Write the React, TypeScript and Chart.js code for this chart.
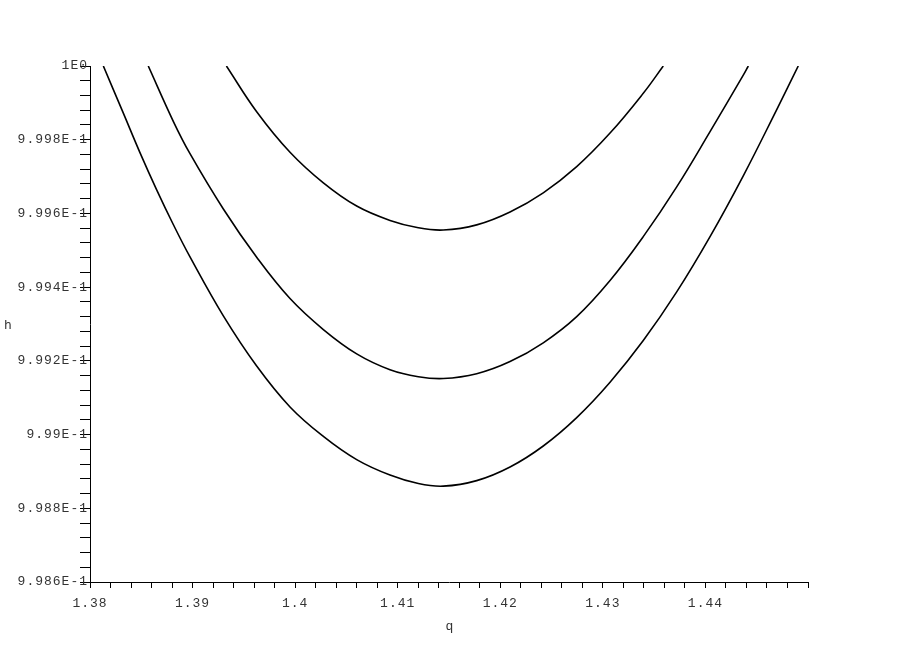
import React, { useEffect, useRef } from "react";
import { Chart, registerables } from "chart.js";

Chart.register(...registerables);

// Curve A (top)
const qA = [1.3933, 1.39625, 1.3995, 1.40275, 1.406, 1.40925, 1.41201, 1.41444, 1.4177, 1.42095, 1.42419, 1.42745, 1.4307, 1.43394, 1.43589];
const hA = [1.0, 0.999876, 0.999766, 0.999683, 0.99962, 0.999581, 0.999561, 0.999555, 0.999569, 0.999604, 0.999656, 0.999727, 0.999818, 0.999926, 1.0];

// Curve B (middle)
const qB = [1.38568, 1.38812, 1.38975, 1.393, 1.39625, 1.3995, 1.40275, 1.406, 1.40925, 1.41201, 1.41444, 1.4177, 1.42095, 1.42419, 1.42745, 1.4307, 1.43394, 1.4372, 1.44045, 1.44369, 1.44418];
const hB = [1.0, 0.99985, 0.999762, 0.999612, 0.999481, 0.999369, 0.999285, 0.999219, 0.999176, 0.999157, 0.999152, 0.999165, 0.999198, 0.999249, 0.99932, 0.999418, 0.999537, 0.999672, 0.999822, 0.999975, 1.0];

// Curve C (bottom)
const qC = [1.3813, 1.38325, 1.38487, 1.3865, 1.38812, 1.38975, 1.393, 1.39625, 1.3995, 1.40275, 1.406, 1.40925, 1.41201, 1.41444, 1.4177, 1.42095, 1.42419, 1.42745, 1.4307, 1.43394, 1.4372, 1.44045, 1.44369, 1.44694, 1.44905];
const hC = [1.0, 0.999872, 0.999765, 0.999664, 0.99957, 0.999482, 0.999322, 0.999186, 0.999075, 0.998995, 0.998932, 0.99889, 0.998867, 0.99886, 0.998875, 0.998912, 0.998969, 0.999046, 0.999142, 0.999255, 0.999387, 0.999537, 0.999702, 0.999881, 1.0];

// Axis ticks
const xMin = 1.38;
const xMax = 1.45;
const xMajorValues = [1.38, 1.39, 1.4, 1.41, 1.42, 1.43, 1.44];
const xTickLabels = ["1.38", "1.39", "1.4", "1.41", "1.42", "1.43", "1.44"];
const xMinorStep = 0.002;

const yMin = 0.9986;
const yMax = 1.0;
const yMajorValues = [0.9986, 0.9988, 0.999, 0.9992, 0.9994, 0.9996, 0.9998, 1.0];
const yTickLabels = ["9.986E-1", "9.988E-1", "9.99E-1", "9.992E-1", "9.994E-1", "9.996E-1", "9.998E-1", "1E0"];
const yMinorStep = 0.00004;

const xTitle = "q";
const yTitle = "h";

const FONT = '"Liberation Mono", "DejaVu Sans Mono", monospace';

function buildTicks(min: number, max: number, step: number) {
  const n = Math.round((max - min) / step);
  const out: { value: number }[] = [];
  for (let i = 0; i <= n; i++) out.push({ value: min + i * step });
  return out;
}

function labelFor(v: number, majors: number[], labels: string[], eps: number) {
  for (let i = 0; i < majors.length; i++) {
    if (Math.abs(majors[i] - v) < eps) return labels[i];
  }
  return "";
}

const toPts = (xs: number[], ys: number[]) => xs.map((x, i) => ({ x, y: ys[i] }));

export default function App() {
  const ref = useRef<HTMLCanvasElement | null>(null);
  useEffect(() => {
    if (!ref.current) return;
    const spacing = {
      id: "spacing",
      beforeLayout(chart: any) {
        try { chart.ctx.letterSpacing = "1px"; } catch (e) {}
      },
      beforeDraw(chart: any) {
        try { chart.ctx.letterSpacing = "1px"; } catch (e) {}
      },
    };
    const titles = {
      id: "axisTitles",
      afterDraw(chart: any) {
        const ctx = chart.ctx;
        const a = chart.chartArea;
        ctx.save();
        ctx.fillStyle = "#333";
        ctx.font = "13px " + FONT;
        ctx.textBaseline = "middle";
        ctx.textAlign = "left";
        ctx.fillText(yTitle, 4, (a.top + a.bottom) / 2 + 2);
        ctx.textAlign = "center";
        ctx.fillText(xTitle, (a.left + a.right) / 2 + 1, 627);
        ctx.restore();
      },
    };
    const ds = (xs: number[], ys: number[]) => ({
      data: toPts(xs, ys),
      borderColor: "#000",
      borderWidth: 1.6,
      pointRadius: 0,
      tension: 0.4,
      fill: false,
    });
    const chart = new Chart(ref.current, {
      type: "line",
      data: { datasets: [ds(qA, hA), ds(qB, hB), ds(qC, hC)] },
      options: {
        animation: false,
        responsive: false,
        events: [],
        layout: { padding: { top: 66, right: 91, left: 0, bottom: 0 } },
        plugins: { legend: { display: false }, tooltip: { enabled: false } },
        scales: {
          x: {
            type: "linear",
            min: xMin,
            max: xMax,
            afterBuildTicks: (s: any) => {
              s.ticks = buildTicks(xMin, xMax, xMinorStep);
            },
            afterFit: (s: any) => {
              s.height = 65;
            },
            ticks: {
              autoSkip: false,
              maxRotation: 0,
              padding: 8,
              color: "#333",
              font: { family: FONT, size: 13 },
              callback: (v: any) => labelFor(Number(v), xMajorValues, xTickLabels, 1e-6),
            },
            grid: { drawOnChartArea: false, drawTicks: true, tickLength: 6, color: "#000" },
            border: { display: true, color: "#000", width: 1 },
          },
          y: {
            type: "linear",
            min: yMin,
            max: yMax,
            afterBuildTicks: (s: any) => {
              s.ticks = buildTicks(yMin, yMax, yMinorStep);
            },
            afterFit: (s: any) => {
              s.width = 90;
            },
            ticks: {
              autoSkip: false,
              padding: -8,
              color: "#333",
              font: { family: FONT, size: 13 },
              callback: (v: any) => labelFor(Number(v), yMajorValues, yTickLabels, 1e-8),
            },
            grid: { drawOnChartArea: false, drawTicks: true, tickLength: 10, color: "#000" },
            border: { display: true, color: "#000", width: 1 },
          },
        },
      },
      plugins: [spacing, titles],
    });
    return () => chart.destroy();
  }, []);
  return (
    <div style={{ position: "fixed", left: 0, top: 0, width: 899, height: 647, background: "#fff" }}>
      <canvas ref={ref} width={899} height={647} />
    </div>
  );
}
